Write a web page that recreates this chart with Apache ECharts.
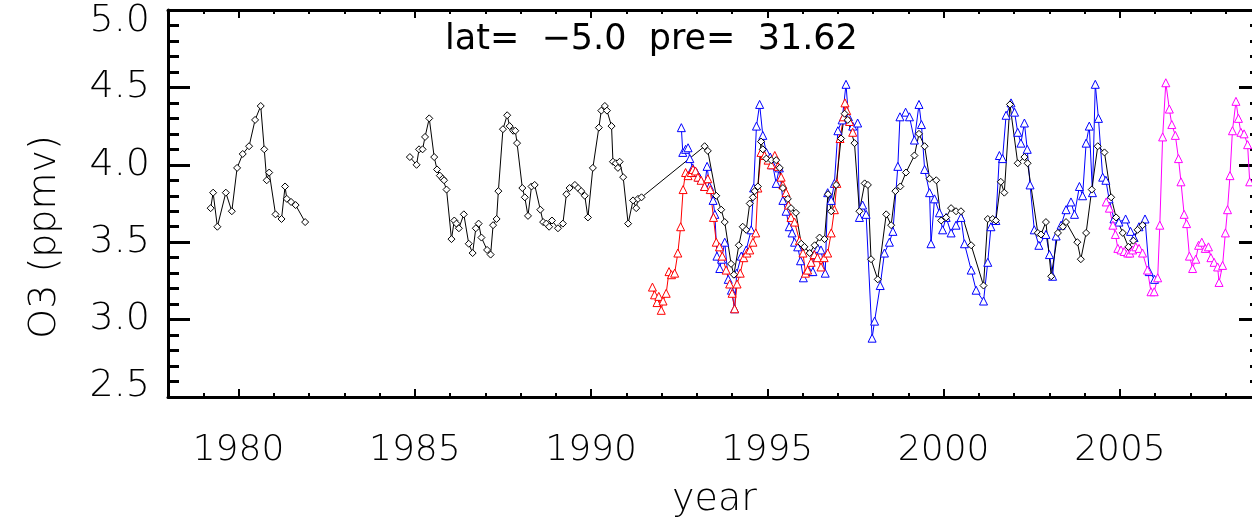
<!DOCTYPE html>
<html>
<head>
<meta charset="utf-8">
<script src="https://cdn.jsdelivr.net/npm/echarts@6/dist/echarts.min.js"></script>
<style>
  html, body { margin: 0; padding: 0; background: #fff; }
  #chart { width: 1252px; height: 521px; }
</style>
</head>
<body>
<div id="chart"></div>
<script>
// Axis ranges and tick labels
const xMin = 1978, xMax = 2009;
const yMin = 2.5, yMax = 5.0;
const xMajorTicks = [1980, 1985, 1990, 1995, 2000, 2005];
const yLabelValues = [2.57, 3.0, 3.5, 4.0, 4.5, 4.93];

// Black diamonds: early record
const blackEarlyYears = [1979.21, 1979.28, 1979.40, 1979.64, 1979.81, 1979.96, 1980.12, 1980.30, 1980.47, 1980.63,
  1980.73, 1980.80, 1980.87, 1981.05, 1981.22, 1981.32, 1981.37, 1981.49, 1981.62, 1981.89];
const blackEarlyO3 = [3.72, 3.82, 3.60, 3.82, 3.70, 3.98, 4.07, 4.12, 4.29, 4.38,
  4.10, 3.90, 3.95, 3.68, 3.65, 3.86, 3.78, 3.76, 3.74, 3.63];

// Black diamonds: later record
const blackLateYears = [1984.86, 1985.05, 1985.12, 1985.22, 1985.29, 1985.41, 1985.55, 1985.63, 1985.71, 1985.79,
  1985.83, 1985.90, 1986.04, 1986.12, 1986.18, 1986.25, 1986.39, 1986.53, 1986.64, 1986.73,
  1986.81, 1986.89, 1987.05, 1987.15, 1987.22, 1987.32, 1987.37, 1987.50, 1987.62, 1987.69,
  1987.79, 1987.85, 1987.90, 1988.05, 1988.12, 1988.21, 1988.31, 1988.40, 1988.56, 1988.64,
  1988.73, 1988.81, 1988.89, 1989.06, 1989.20, 1989.30, 1989.39, 1989.54, 1989.63, 1989.72,
  1989.82, 1989.91, 1990.05, 1990.22, 1990.29, 1990.39, 1990.45, 1990.58, 1990.62, 1990.70,
  1990.76, 1990.81, 1990.91, 1991.05, 1991.19, 1991.28, 1991.33, 1991.43, 1993.22, 1993.31,
  1993.55, 1993.69, 1993.79, 1993.97, 1994.05, 1994.19, 1994.30, 1994.40, 1994.50, 1994.59,
  1994.64, 1994.73, 1994.82, 1994.87, 1994.97, 1995.11, 1995.25, 1995.35, 1995.44, 1995.58,
  1995.67, 1995.81, 1995.96, 1996.05, 1996.20, 1996.34, 1996.48, 1996.62, 1996.72, 1996.81,
  1996.95, 1997.09, 1997.19, 1997.28, 1997.47, 1997.61, 1997.76, 1997.85, 1997.94, 1998.13,
  1998.37, 1998.51, 1998.63, 1998.77, 1998.93, 1999.17, 1999.30, 1999.46, 1999.60, 1999.79,
  1999.93, 2000.07, 2000.21, 2000.35, 2000.49, 2000.78, 2001.13, 2001.25, 2001.39, 2001.48,
  2001.62, 2001.72, 2001.88, 2002.10, 2002.29, 2002.38, 2002.67, 2002.76, 2002.90, 2003.05,
  2003.24, 2003.38, 2003.47, 2003.79, 2003.89, 2004.04, 2004.20, 2004.37, 2004.56, 2004.75,
  2004.89, 2005.08, 2005.24, 2005.38, 2005.50, 2005.64];
const blackLateO3 = [4.05, 4.00, 4.10, 4.10, 4.18, 4.30, 4.05, 3.97, 3.93, 3.91,
  3.90, 3.84, 3.52, 3.64, 3.62, 3.59, 3.68, 3.49, 3.43, 3.59,
  3.62, 3.53, 3.45, 3.42, 3.61, 3.65, 3.83, 4.23, 4.32, 4.25,
  4.22, 4.22, 4.14, 3.85, 3.79, 3.67, 3.86, 3.87, 3.71, 3.63,
  3.62, 3.60, 3.64, 3.59, 3.62, 3.81, 3.85, 3.87, 3.85, 3.83,
  3.80, 3.66, 3.98, 4.24, 4.35, 4.38, 4.35, 4.25, 4.02, 4.01,
  3.98, 4.02, 3.92, 3.62, 3.77, 3.72, 3.78, 3.79, 4.12, 4.09,
  3.80, 3.71, 3.63, 3.36, 3.29, 3.48, 3.60, 3.58, 3.75, 3.79,
  3.83, 3.86, 4.15, 4.10, 4.04, 4.03, 4.03, 3.98, 3.85, 3.78,
  3.72, 3.69, 3.49, 3.47, 3.43, 3.48, 3.53, 3.52, 3.81, 3.70,
  3.87, 4.17, 4.33, 4.29, 4.14, 3.70, 3.88, 3.87, 3.39, 3.26,
  3.68, 3.61, 3.83, 3.86, 3.95, 4.06, 4.20, 4.12, 3.91, 3.90,
  3.64, 3.66, 3.72, 3.70, 3.70, 3.48, 3.22, 3.65, 3.65, 3.64,
  3.89, 3.82, 4.39, 4.01, 4.05, 4.01, 3.56, 3.55, 3.63, 3.28,
  3.56, 3.60, 3.63, 3.50, 3.39, 3.56, 3.84, 4.12, 4.08, 3.79,
  3.66, 3.56, 3.47, 3.51, 3.58, 3.61];

// Red triangles
const redYears = [1991.74, 1991.80, 1991.87, 1991.92, 1991.99, 1992.04, 1992.13, 1992.21, 1992.28, 1992.37,
  1992.46, 1992.54, 1992.61, 1992.68, 1992.75, 1992.84, 1992.89, 1992.96, 1993.03, 1993.12,
  1993.22, 1993.31, 1993.38, 1993.47, 1993.55, 1993.64, 1993.72, 1993.83, 1993.93, 1994.00,
  1994.07, 1994.14, 1994.23, 1994.33, 1994.42, 1994.50, 1994.59, 1994.67, 1994.73, 1994.82,
  1994.92, 1995.02, 1995.11, 1995.21, 1995.30, 1995.39, 1995.44, 1995.53, 1995.60, 1995.67,
  1995.77, 1995.91, 1996.01, 1996.08, 1996.14, 1996.24, 1996.33, 1996.42, 1996.52, 1996.61,
  1996.71, 1996.81, 1996.90, 1996.97, 1997.06, 1997.16, 1997.20, 1997.25, 1997.33, 1997.42];
const redO3 = [3.21, 3.16, 3.11, 3.15, 3.06, 3.12, 3.17, 3.31, 3.29, 3.30,
  3.43, 3.60, 3.84, 3.95, 3.93, 3.95, 3.97, 3.96, 3.92, 3.90,
  3.86, 3.91, 3.84, 3.66, 3.50, 3.47, 3.41, 3.32, 3.23, 3.17,
  3.07, 3.23, 3.30, 3.40, 3.43, 3.45, 3.50, 3.56, 3.85, 4.08,
  4.06, 4.03, 4.00, 4.06, 3.99, 3.92, 3.87, 3.82, 3.74, 3.66,
  3.63, 3.51, 3.43, 3.30, 3.32, 3.37, 3.42, 3.40, 3.34, 3.40,
  3.43, 3.56, 3.71, 3.88, 4.17, 4.31, 4.40, 4.35, 4.28, 4.21];

// Blue triangles
const blueYears = [1992.56, 1992.60, 1992.68, 1992.75, 1992.80, 1992.88, 1992.99, 1993.07, 1993.22, 1993.29,
  1993.36, 1993.46, 1993.51, 1993.57, 1993.65, 1993.70, 1993.79, 1993.89, 1993.98, 1994.07,
  1994.13, 1994.26, 1994.40, 1994.54, 1994.61, 1994.69, 1994.78, 1994.87, 1994.97, 1995.08,
  1995.15, 1995.25, 1995.34, 1995.44, 1995.53, 1995.62, 1995.70, 1995.77, 1995.86, 1995.94,
  1996.02, 1996.19, 1996.29, 1996.33, 1996.43, 1996.52, 1996.64, 1996.71, 1996.81, 1996.90,
  1997.00, 1997.12, 1997.23, 1997.30, 1997.42, 1997.56, 1997.61, 1997.70, 1997.80, 1997.97,
  1998.04, 1998.20, 1998.32, 1998.46, 1998.56, 1998.70, 1998.76, 1998.92, 1999.03, 1999.17,
  1999.30, 1999.37, 1999.46, 1999.60, 1999.64, 1999.74, 1999.88, 1999.97, 2000.07, 2000.21,
  2000.35, 2000.49, 2000.59, 2000.78, 2000.92, 2001.13, 2001.25, 2001.34, 2001.48, 2001.58,
  2001.67, 2001.77, 2001.91, 2002.01, 2002.10, 2002.19, 2002.29, 2002.37, 2002.45, 2002.57,
  2002.70, 2002.90, 2003.00, 2003.09, 2003.19, 2003.33, 2003.47, 2003.61, 2003.71, 2003.85,
  2003.94, 2004.04, 2004.13, 2004.22, 2004.30, 2004.39, 2004.51, 2004.60, 2004.69, 2004.83,
  2004.97, 2005.16, 2005.30, 2005.40, 2005.54, 2005.71, 2005.83, 2005.98];
const blueO3 = [4.24, 4.08, 4.10, 4.11, 4.04, 3.98, 3.95, 3.92, 3.86, 3.99,
  3.86, 3.77, 3.68, 3.41, 3.33, 3.39, 3.50, 3.26, 3.19, 3.07,
  3.30, 3.41, 3.45, 3.58, 3.85, 4.25, 4.39, 4.19, 4.08, 4.05,
  4.00, 3.88, 3.98, 3.77, 3.70, 3.60, 3.56, 3.50, 3.47, 3.38,
  3.27, 3.31, 3.31, 3.42, 3.46, 3.45, 3.30, 3.82, 3.77, 3.88,
  4.22, 4.29, 4.52, 4.31, 4.25, 4.27, 3.66, 3.74, 3.68, 2.88,
  2.99, 3.22, 3.43, 3.50, 3.57, 3.99, 4.31, 4.34, 4.31, 4.16,
  4.39, 4.26, 3.97, 3.82, 3.49, 3.78, 3.69, 3.58, 3.66, 3.56,
  3.61, 3.66, 3.49, 3.32, 3.19, 3.12, 3.37, 3.60, 3.64, 4.06,
  4.04, 4.32, 4.40, 4.34, 4.21, 4.14, 4.27, 4.10, 3.87, 3.58,
  3.48, 3.55, 3.42, 3.28, 3.54, 3.61, 3.71, 3.76, 3.68, 3.86,
  3.80, 4.14, 4.25, 3.82, 4.52, 4.30, 3.92, 3.90, 3.78, 3.65,
  3.63, 3.65, 3.57, 3.53, 3.60, 3.65, 3.31, 3.26];

// Magenta triangles
const magentaYears = [2004.61, 2004.70, 2004.80, 2004.87, 2004.94, 2005.03, 2005.12, 2005.22, 2005.28, 2005.36,
  2005.45, 2005.54, 2005.64, 2005.78, 2005.88, 2005.97, 2006.07, 2006.13, 2006.21, 2006.30,
  2006.40, 2006.47, 2006.57, 2006.66, 2006.73, 2006.82, 2006.89, 2006.97, 2007.06, 2007.15,
  2007.23, 2007.32, 2007.42, 2007.51, 2007.58, 2007.67, 2007.77, 2007.81, 2007.91, 2007.99,
  2008.05, 2008.12, 2008.19, 2008.29, 2008.36, 2008.43, 2008.52, 2008.62, 2008.68];
const magentaO3 = [3.76, 3.72, 3.61, 3.55, 3.46, 3.45, 3.44, 3.43, 3.43, 3.45,
  3.47, 3.46, 3.43, 3.32, 3.18, 3.18, 3.27, 3.61, 4.18, 4.53,
  4.36, 4.26, 4.19, 4.04, 3.89, 3.68, 3.62, 3.41, 3.33, 3.39,
  3.48, 3.50, 3.46, 3.47, 3.40, 3.37, 3.34, 3.24, 3.35, 3.56,
  3.71, 3.93, 4.22, 4.41, 4.30, 4.21, 4.20, 4.13, 3.89];

const pairs = (xs, ys) => xs.map((x, i) => [x, ys[i]]);

function makeSeries(name, xs, ys, color, symbol, size) {
  return {
    name: name,
    type: 'line',
    data: pairs(xs, ys),
    xAxisIndex: 0,
    yAxisIndex: 0,
    symbol: symbol,
    symbolSize: size,
    showAllSymbol: true,
    lineStyle: { color: color, width: 1 },
    itemStyle: { color: '#ffffff', borderColor: color, borderWidth: 1 },
    emphasis: { disabled: true },
    animation: false,
    z: 3
  };
}

const frameLine = { show: true, onZero: false, lineStyle: { color: '#000', width: 3 } };
const noLine = { show: false, onZero: false };
const noLabel = { show: false };
const noSplit = { show: false };
const labelFont = 'DejaVu Sans';

// x axes: frame lines, yearly ticks, five-year ticks, labels
function xTickAxis(position, interval, length, showLine, extra) {
  return Object.assign({
    type: 'value', position: position, min: xMin, max: xMax, interval: interval,
    axisLine: showLine ? frameLine : noLine,
    axisTick: { show: true, inside: true, length: length, lineStyle: { color: '#000', width: 2 } },
    axisLabel: noLabel, splitLine: noSplit
  }, extra || {});
}

// y axes: frame lines, 0.5 ticks, 0.1 ticks
function yTickAxis(position, interval, length, showLine) {
  return {
    type: 'value', position: position, min: yMin, max: yMax, interval: interval,
    axisLine: showLine ? frameLine : noLine,
    axisTick: { show: true, inside: true, length: length, lineStyle: { color: '#000', width: 3 } },
    axisLabel: noLabel, splitLine: noSplit
  };
}

const chart = echarts.init(document.getElementById('chart'), null, { renderer: 'canvas' });

chart.setOption({
  backgroundColor: '#ffffff',
  animation: false,
  title: {
    text: 'lat=  \u22125.0  pre=  31.62',
    left: 440,
    top: 17,
    textStyle: { fontFamily: labelFont, fontSize: 35, fontWeight: 'normal', color: '#000' }
  },
  grid: { left: 168, right: -9, top: 10, bottom: 124, containLabel: false, outerBoundsMode: 'none' },
  xAxis: [
    xTickAxis('bottom', 1, 4, true, {
      axisLabel: {
        show: true, margin: 36, color: '#000', fontFamily: labelFont, fontWeight: 200, fontSize: 36,
        formatter: v => (v % 5 === 0 ? String(v) : '')
      },
      name: 'year', nameLocation: 'middle', nameGap: 84,
      nameTextStyle: { color: '#000', fontFamily: labelFont, fontWeight: 200, fontSize: 38 }
    }),
    xTickAxis('bottom', 1, 8, false, {
      axisTick: { show: true, inside: true, length: 8, customValues: xMajorTicks, lineStyle: { color: '#000', width: 2 } }
    }),
    xTickAxis('top', 1, 4, true),
    xTickAxis('top', 1, 8, false, {
      axisTick: { show: true, inside: true, length: 8, customValues: xMajorTicks, lineStyle: { color: '#000', width: 2 } }
    })
  ],
  yAxis: [
    yTickAxis('left', 0.5, 22, true),
    yTickAxis('left', 0.1, 11, false),
    {
      type: 'value', position: 'left', min: yMin, max: yMax, interval: 0.5,
      axisLine: noLine,
      axisTick: { show: false },
      axisLabel: {
        show: true, margin: 18, color: '#000', fontFamily: labelFont, fontWeight: 200, fontSize: 38,
        customValues: yLabelValues,
        formatter: v => (Math.round(v * 2) / 2).toFixed(1)
      },
      splitLine: noSplit
    },
    yTickAxis('right', 0.5, 22, true),
    yTickAxis('right', 0.1, 11, false)
  ],
  graphic: [{
    type: 'text',
    x: 45, y: 237,
    rotation: Math.PI / 2,
    style: {
      text: 'O3 (ppmv)',
      fill: '#000',
      font: '200 38px "DejaVu Sans"',
      align: 'center',
      verticalAlign: 'middle'
    }
  }],
  series: [
    makeSeries('blue', blueYears, blueO3, '#0000ff', 'triangle', 8),
    makeSeries('red', redYears, redO3, '#ff0000', 'triangle', 8),
    makeSeries('magenta', magentaYears, magentaO3, '#ff00ff', 'triangle', 8),
    makeSeries('black-early', blackEarlyYears, blackEarlyO3, '#000000', 'diamond', 7),
    makeSeries('black-late', blackLateYears, blackLateO3, '#000000', 'diamond', 7)
  ]
});
</script>
</body>
</html>
